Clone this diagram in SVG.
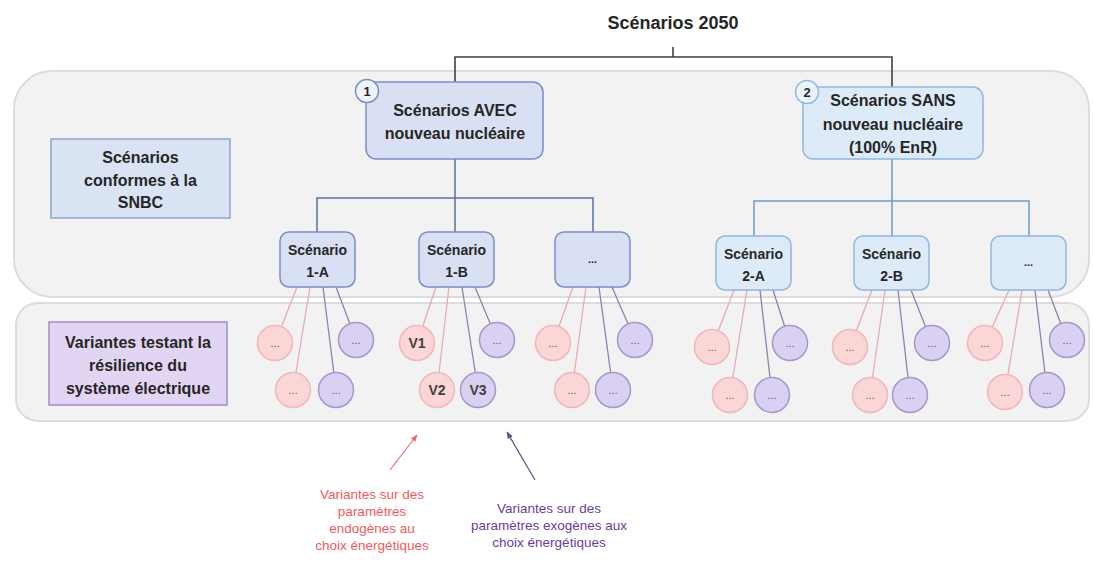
<svg xmlns="http://www.w3.org/2000/svg" width="1093" height="565" viewBox="0 0 1093 565">
<defs>
<style>
text{font-family:"Liberation Sans",Arial,sans-serif;text-anchor:middle;fill:#262626}
.b{font-weight:bold}
.panel{fill:#f2f2f2;stroke:#dcdcdc;stroke-width:2}
.g1{fill:#d9e0f4;stroke:#7b8dc5;stroke-width:1.5}
.g2{fill:#ddebf8;stroke:#93b7e0;stroke-width:1.5}
.pk{fill:#fbd6d7;stroke:#f1b8bc;stroke-width:1.5}
.pu{fill:#dad0f1;stroke:#a698cf;stroke-width:1.5}
.lp{stroke:#e9aab4;stroke-width:1.3;fill:none}
.lu{stroke:#8a84ae;stroke-width:1.3;fill:none}
.t14{font-size:14px}
.t16{font-size:16px}
.dots{font-size:11px;fill:#5a5a5a}
.v{font-size:14px;font-weight:bold;fill:#404040}
</style>
<marker id="ar" viewBox="0 0 10 10" refX="9" refY="5" markerWidth="6" markerHeight="6" orient="auto"><path d="M0,1 L10,5 L0,9 z" fill="#f06a70"/></marker>
<marker id="au" viewBox="0 0 10 10" refX="9" refY="5" markerWidth="6" markerHeight="6" orient="auto"><path d="M0,1 L10,5 L0,9 z" fill="#5c4f86"/></marker>
</defs>

<g id="panels">
<rect class="panel" x="14" y="71" width="1075" height="226" rx="38"/>
<rect class="panel" x="16" y="303" width="1073" height="118" rx="22"/>
</g>

<g id="connectors">
<path d="M673,47 V57 M455,82 V57 H892 V87" stroke="#404040" stroke-width="1.6" fill="none"/>
<path d="M455,159 V232 M317,232 V198 H593 V232" stroke="#5b6f9e" stroke-width="1.5" fill="none"/>
<path d="M892,159 V236 M754,236 V201 H1029 V236" stroke="#6f9acb" stroke-width="1.5" fill="none"/>
<path class="lp" d="M297,287 L275,343 M310,287 L293,390"/>
<path class="lu" d="M323,287 L336,390 M336,287 L356,340"/>
<path class="lp" d="M436,287 L417,343 M449,287 L437,390"/>
<path class="lu" d="M462,287 L478,390 M475,287 L497,340"/>
<path class="lp" d="M573,287 L553,343 M586,287 L572,390"/>
<path class="lu" d="M599,287 L613,390 M612,287 L635,340"/>
<path class="lp" d="M734,290 L712,347 M747,290 L730,395"/>
<path class="lu" d="M760,290 L772,395 M773,290 L790,343"/>
<path class="lp" d="M872,290 L850,347 M885,290 L870,395"/>
<path class="lu" d="M898,290 L910,395 M911,290 L932,343"/>
<path class="lp" d="M1009,290 L985,343 M1022,290 L1005,392"/>
<path class="lu" d="M1035,290 L1047,390 M1048,290 L1067,340"/>
<line x1="390" y1="470" x2="417" y2="435" stroke="#f06a70" stroke-width="1.2" marker-end="url(#ar)"/>
<line x1="535" y1="480" x2="507" y2="432" stroke="#5c4f86" stroke-width="1.2" marker-end="url(#au)"/>
</g>

<g id="title"><text class="b" x="673" y="29" font-size="18">Scénarios 2050</text></g>

<g id="snbc">
<rect x="51" y="139" width="179" height="79" fill="#dae3f3" stroke="#8fa5d0" stroke-width="1.5"/>
<text class="b t16" x="140.5" y="163">Scénarios</text>
<text class="b t16" x="140.5" y="186">conformes à la</text>
<text class="b t16" x="140.5" y="208">SNBC</text>
</g>

<g id="variantes">
<rect x="49" y="322" width="178" height="83" fill="#e2d5f3" stroke="#a08fc4" stroke-width="1.5"/>
<text class="b t16" x="138" y="348">Variantes testant la</text>
<text class="b t16" x="138" y="371">résilience du</text>
<text class="b t16" x="138" y="394">système électrique</text>
</g>

<g id="scen1">
<rect class="g1" x="366" y="82" width="177" height="77" rx="10"/>
<text class="b t16" x="455" y="116">Scénarios AVEC</text>
<text class="b t16" x="455" y="139">nouveau nucléaire</text>
<circle cx="367" cy="91" r="11.5" fill="#eef2fa" stroke="#7b8dc5" stroke-width="1.5"/>
<text class="b" x="367" y="96" font-size="13">1</text>
</g>

<g id="scen2">
<rect class="g2" x="803" y="87" width="180" height="72" rx="10"/>
<text class="b t16" x="893" y="105.5">Scénarios SANS</text>
<text class="b t16" x="893" y="129.5">nouveau nucléaire</text>
<text class="b t16" x="893" y="152.5">(100% EnR)</text>
<circle cx="807" cy="92" r="11.5" fill="#eaf3fb" stroke="#93b7e0" stroke-width="1.5"/>
<text class="b" x="807" y="97" font-size="13">2</text>
</g>

<g id="s1A">
<rect class="g1" x="280" y="232" width="75" height="55" rx="9"/>
<text class="b t14" x="317.5" y="255">Scénario</text>
<text class="b t14" x="317.5" y="277">1-A</text>
</g>
<g id="s1B">
<rect class="g1" x="419" y="232" width="75" height="55" rx="9"/>
<text class="b t14" x="456.5" y="255">Scénario</text>
<text class="b t14" x="456.5" y="277">1-B</text>
</g>
<g id="s1X">
<rect class="g1" x="555" y="232" width="75" height="55" rx="9"/>
<text class="b" x="592.5" y="263" font-size="11">...</text>
</g>
<g id="s2A">
<rect class="g2" x="716" y="236" width="75" height="54" rx="9"/>
<text class="b t14" x="753.5" y="259">Scénario</text>
<text class="b t14" x="753.5" y="281">2-A</text>
</g>
<g id="s2B">
<rect class="g2" x="854" y="236" width="75" height="54" rx="9"/>
<text class="b t14" x="891.5" y="259">Scénario</text>
<text class="b t14" x="891.5" y="281">2-B</text>
</g>
<g id="s2X">
<rect class="g2" x="991" y="236" width="75" height="54" rx="9"/>
<text class="b" x="1028.5" y="266" font-size="11">...</text>
</g>

<g id="v1A">
<circle class="pk" cx="275" cy="343" r="17.5"/><text class="dots" x="275" y="347">...</text>
<circle class="pu" cx="356" cy="340" r="17.5"/><text class="dots" x="356" y="344">...</text>
<circle class="pk" cx="293" cy="390" r="17.5"/><text class="dots" x="293" y="394">...</text>
<circle class="pu" cx="336" cy="390" r="17.5"/><text class="dots" x="336" y="394">...</text>
</g>
<g id="v1B">
<circle class="pk" cx="417" cy="343" r="17.5"/><text class="v" x="417" y="348">V1</text>
<circle class="pu" cx="497" cy="340" r="17.5"/><text class="dots" x="497" y="344">...</text>
<circle class="pk" cx="437" cy="390" r="17.5"/><text class="v" x="437" y="395">V2</text>
<circle class="pu" cx="478" cy="390" r="17.5"/><text class="v" x="478" y="395">V3</text>
</g>
<g id="v1X">
<circle class="pk" cx="553" cy="343" r="17.5"/><text class="dots" x="553" y="347">...</text>
<circle class="pu" cx="635" cy="340" r="17.5"/><text class="dots" x="635" y="344">...</text>
<circle class="pk" cx="572" cy="390" r="17.5"/><text class="dots" x="572" y="394">...</text>
<circle class="pu" cx="613" cy="390" r="17.5"/><text class="dots" x="613" y="394">...</text>
</g>
<g id="v2A">
<circle class="pk" cx="712" cy="347" r="17.5"/><text class="dots" x="712" y="351">...</text>
<circle class="pu" cx="790" cy="343" r="17.5"/><text class="dots" x="790" y="347">...</text>
<circle class="pk" cx="730" cy="395" r="17.5"/><text class="dots" x="730" y="399">...</text>
<circle class="pu" cx="772" cy="395" r="17.5"/><text class="dots" x="772" y="399">...</text>
</g>
<g id="v2B">
<circle class="pk" cx="850" cy="347" r="17.5"/><text class="dots" x="850" y="351">...</text>
<circle class="pu" cx="932" cy="343" r="17.5"/><text class="dots" x="932" y="347">...</text>
<circle class="pk" cx="870" cy="395" r="17.5"/><text class="dots" x="870" y="399">...</text>
<circle class="pu" cx="910" cy="395" r="17.5"/><text class="dots" x="910" y="399">...</text>
</g>
<g id="v2X">
<circle class="pk" cx="985" cy="343" r="17.5"/><text class="dots" x="985" y="347">...</text>
<circle class="pu" cx="1067" cy="340" r="17.5"/><text class="dots" x="1067" y="344">...</text>
<circle class="pk" cx="1005" cy="392" r="17.5"/><text class="dots" x="1005" y="396">...</text>
<circle class="pu" cx="1047" cy="390" r="17.5"/><text class="dots" x="1047" y="394">...</text>
</g>

<g id="legend-endo" font-size="13.5">
<text x="372" y="499" style="fill:#f05a60">Variantes sur des</text>
<text x="372" y="516" style="fill:#f05a60">paramètres</text>
<text x="372" y="533" style="fill:#f05a60">endogènes au</text>
<text x="372" y="550" style="fill:#f05a60">choix énergétiques</text>
</g>
<g id="legend-exo" font-size="13.5">
<text x="549" y="513" style="fill:#6a3d9a">Variantes sur des</text>
<text x="549" y="530" style="fill:#6a3d9a">paramètres exogènes aux</text>
<text x="549" y="547" style="fill:#6a3d9a">choix énergétiques</text>
</g>
</svg>
